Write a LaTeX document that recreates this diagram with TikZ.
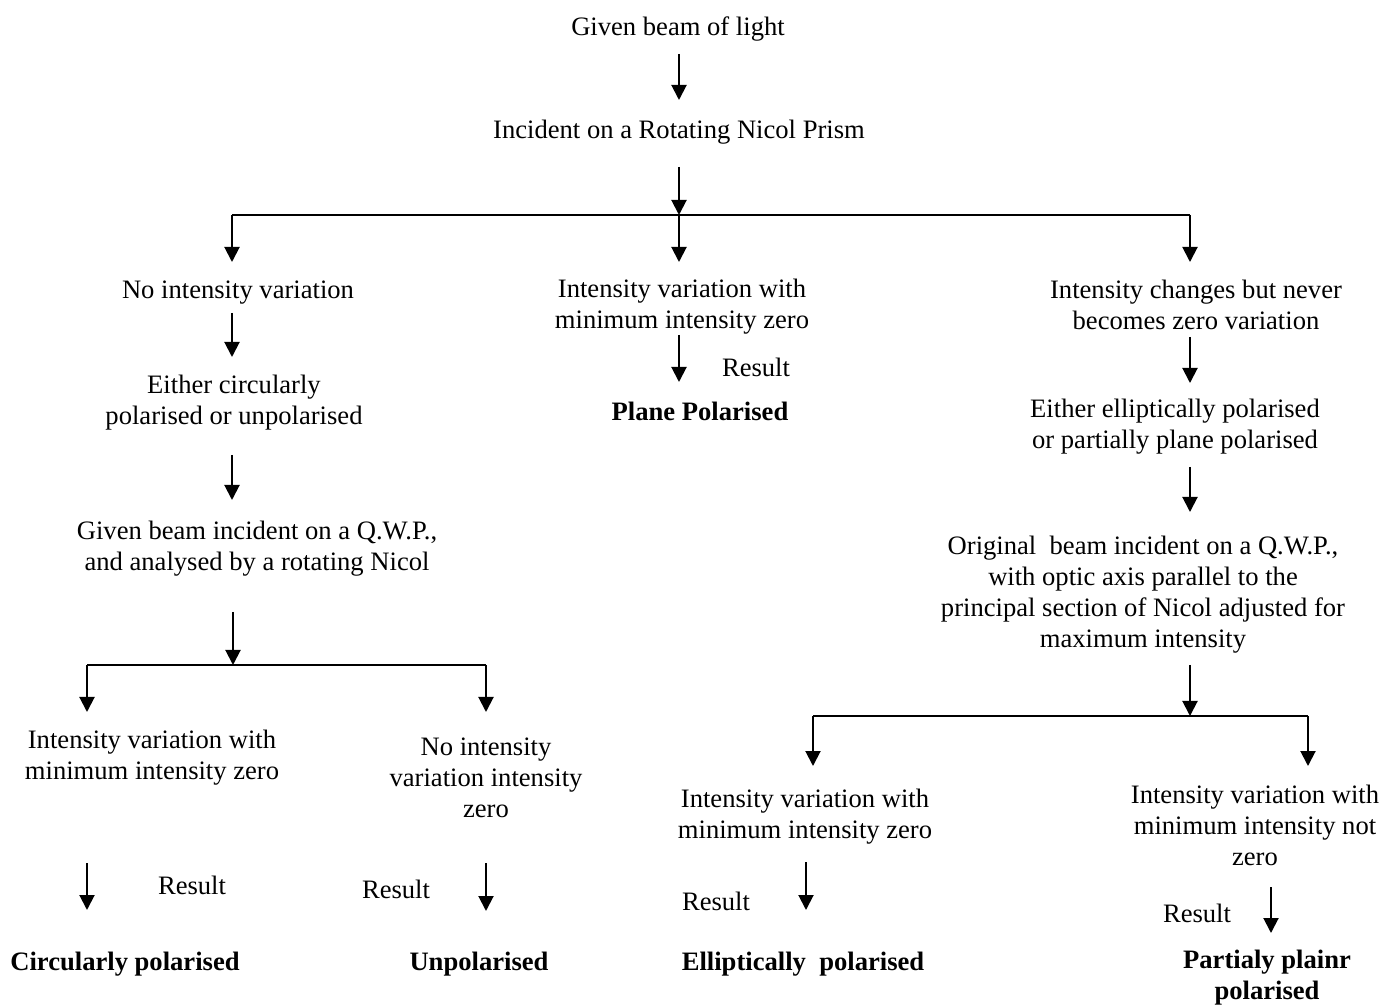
\documentclass[tikz,border=0pt]{standalone}
\usepackage{fontspec}
\setmainfont{Liberation Serif}
\usepackage{tikz}
\usetikzlibrary{arrows.meta}
\tikzset{
  font={\fontsize{13.3pt}{15.5pt}\selectfont},
  bold/.style={font={\fontsize{13.3pt}{15.5pt}\selectfont\bfseries}}}

\begin{document}
\begin{tikzpicture}[x=0.5pt,y=-0.5pt]
\tikzstyle{every node}+=[inner sep=0pt, align=center]
\tikzstyle{arr}=[line width=1pt, -{Triangle[width=7.5pt,length=7.5pt]}]
\tikzstyle{bar}=[line width=1pt]
\useasboundingbox (0,0) rectangle (1399,1005);
% texts
\node (given) at (678,29) {Given beam of light};
\node (incident) at (679,132) {Incident on a Rotating Nicol Prism};
\node (noint) at (238,293) {No intensity variation};
\node (circun) at (234,403) {Either circularly\\polarised or unpolarised};
\node (qwpl) at (257,549) {Given beam incident on a Q.W.P.,\\and analysed by a rotating Nicol};
\node (minl) at (152,758) {Intensity variation with\\minimum intensity zero};
\node (nozero) at (486,778) {No intensity\\variation intensity\\zero};
\node (resl) at (192,885) {Result};
\node (resu) at (396,889) {Result};
\node[bold] (circ) at (125,964) {Circularly polarised};
\node[bold] (unpol) at (479,964) {Unpolarised};
\node (minm) at (682,307) {Intensity variation with\\minimum intensity zero};
\node (resm) at (756,367) {Result};
\node[bold] (plane) at (700,411) {Plane Polarised};
\node (never) at (1196,305) {Intensity changes but never\\becomes zero variation};
\node (ellpart) at (1175,427) {Either elliptically polarised\\or partially plane polarised};
\node (orig) at (1143,595) {Original\ \ beam incident on a Q.W.P.,\\with optic axis parallel to the\\principal section of Nicol adjusted for\\maximum intensity};
\node (minr) at (805,817) {Intensity variation with\\minimum intensity zero};
\node (notzero) at (1255,825) {Intensity variation with\\minimum intensity not\\zero};
\node (rese) at (716,901) {Result};
\node (resp) at (1197,913) {Result};
\node[bold] (ellip) at (803,964) {Elliptically\ \ polarised};
\node[bold] (partial) at (1267,978) {Partialy plainr\\polarised};
% arrow ends
\coordinate (s1) at (679,54);   \coordinate (e1) at (679,100);
\coordinate (s2) at (679,167);  \coordinate (bm) at (679,215);
\coordinate (bl) at (232,215);  \coordinate (br) at (1190,215);
\coordinate (el) at (232,262);  \coordinate (em) at (679,262);
\coordinate (er) at (1190,262);
\coordinate (s3) at (232,313);  \coordinate (e3) at (232,357);
\coordinate (s4) at (232,455);  \coordinate (e4) at (232,500);
\coordinate (s5) at (233,612);  \coordinate (e5) at (233,665);
\coordinate (cl) at (87,665);   \coordinate (cr) at (486,665);
\coordinate (dl) at (87,712);   \coordinate (dr) at (486,712);
\coordinate (s6) at (87,863);   \coordinate (e6) at (87,910);
\coordinate (s7) at (486,863);  \coordinate (e7) at (486,911);
\coordinate (s8) at (679,335);  \coordinate (e8) at (679,382);
\coordinate (s9) at (1190,337); \coordinate (e9) at (1190,383);
\coordinate (s10) at (1190,467); \coordinate (e10) at (1190,512);
\coordinate (s11) at (1190,665); \coordinate (e11) at (1190,716);
\coordinate (fl) at (813,716);  \coordinate (fr) at (1308,716);
\coordinate (gl) at (813,766);  \coordinate (gr) at (1308,766);
\coordinate (s12) at (806,862); \coordinate (e12) at (806,910);
\coordinate (s13) at (1271,887); \coordinate (e13) at (1271,933);
% connectors
\draw[arr] (s1) -- (e1);
\draw[arr] (s2) -- (bm);
\draw[bar] (bl) -- (br);
\draw[arr] (bl) -- (el);
\draw[arr] (bm) -- (em);
\draw[arr] (br) -- (er);
\draw[arr] (s3) -- (e3);
\draw[arr] (s4) -- (e4);
\draw[arr] (s5) -- (e5);
\draw[bar] (cl) -- (cr);
\draw[arr] (cl) -- (dl);
\draw[arr] (cr) -- (dr);
\draw[arr] (s6) -- (e6);
\draw[arr] (s7) -- (e7);
\draw[arr] (s8) -- (e8);
\draw[arr] (s9) -- (e9);
\draw[arr] (s10) -- (e10);
\draw[arr] (s11) -- (e11);
\draw[bar] (fl) -- (fr);
\draw[arr] (fl) -- (gl);
\draw[arr] (fr) -- (gr);
\draw[arr] (s12) -- (e12);
\draw[arr] (s13) -- (e13);
\end{tikzpicture}
\end{document}
